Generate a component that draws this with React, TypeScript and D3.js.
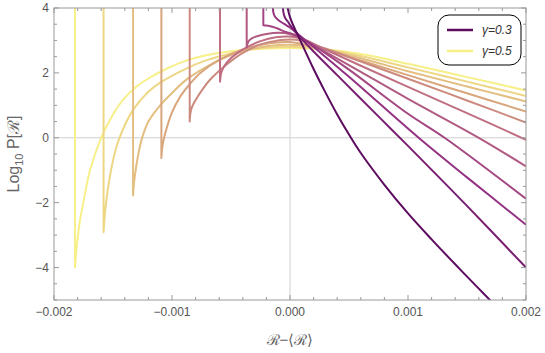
import * as d3 from 'd3';

// x values are in units of 1e-3 (R - <R>), y values are Log10 P[R]
const gammas = [0.3, 0.32, 0.34, 0.36, 0.38, 0.4, 0.42, 0.44, 0.46, 0.48, 0.5];

const g30: [number, number][] = [
  [-0.035, 4.3], [0.0, 3.72], [0.1, 2.9], [0.2, 2.12], [0.3, 1.4], [0.4, 0.72], [0.5, 0.1],
  [0.6, -0.47], [0.8, -1.45], [1.0, -2.33], [1.2, -3.13], [1.4, -3.9], [1.6, -4.65], [1.7, -5.02],
];
const g32: [number, number][] = [
  [-0.065, 4.3], [-0.055, 3.85], [-0.042, 3.7], [-0.02, 3.59], [0.0, 3.48], [0.068, 3.17],
  [0.2, 2.66], [0.4, 1.93], [0.76, 0.62], [1.0, -0.25], [1.5, -2.1], [2.0, -4.0],
];
const g34: [number, number][] = [
  [-0.15, 4.3], [-0.14, 3.85], [-0.127, 3.73], [-0.1, 3.63], [-0.05, 3.51], [0.0, 3.4], [0.06, 3.22],
  [0.2, 2.8], [0.5, 1.88], [1.09, 0.0], [1.5, -1.22], [2.0, -2.68],
];
const g36: [number, number][] = [
  [-0.226, 4.3], [-0.226, 3.47], [-0.2, 3.46], [-0.15, 3.42], [-0.1, 3.36], [-0.05, 3.28], [0.0, 3.22],
  [0.06, 3.15], [0.2, 2.85], [0.5, 2.1], [1.0, 0.74], [1.31, 0.0], [2.0, -1.88],
];
const g38: [number, number][] = [
  [-0.367, 4.3], [-0.367, 2.79], [-0.36, 2.9], [-0.345, 3.0], [-0.32, 3.07], [-0.28, 3.13], [-0.2, 3.2],
  [-0.1, 3.24], [0.0, 3.2], [0.1, 3.05], [0.3, 2.65], [0.6, 2.03], [1.0, 1.2], [1.6, 0.0], [2.0, -0.88],
];
const g40: [number, number][] = [
  [-0.593, 4.3], [-0.593, 1.73], [-0.586, 1.95], [-0.575, 2.08], [-0.555, 2.22], [-0.51, 2.42],
  [-0.45, 2.6], [-0.36, 2.8], [-0.25, 2.98], [-0.12, 3.1], [0.0, 3.12], [0.1, 3.05], [0.3, 2.72],
  [0.6, 2.22], [1.0, 1.57], [1.5, 0.76], [2.0, -0.06],
];
const g42: [number, number][] = [
  [-0.85, 4.3], [-0.85, 0.5], [-0.843, 0.78], [-0.83, 0.95], [-0.81, 1.1], [-0.79, 1.22], [-0.74, 1.5],
  [-0.68, 1.78], [-0.54, 2.25], [-0.4, 2.62], [-0.25, 2.88], [-0.1, 3.0], [0.05, 3.02], [0.3, 2.75],
  [0.6, 2.35], [1.0, 1.82], [1.5, 1.15], [2.0, 0.47],
];
const g44: [number, number][] = [
  [-1.09, 4.3], [-1.09, -0.62], [-1.083, -0.3], [-1.07, -0.05], [-1.045, 0.3], [-1.0, 0.78], [-0.93, 1.27],
  [-0.85, 1.65], [-0.76, 2.0], [-0.6, 2.4], [-0.4, 2.72], [-0.2, 2.9], [0.0, 2.95], [0.3, 2.72],
  [0.6, 2.38], [1.0, 1.93], [1.5, 1.37], [2.0, 0.81],
];
const g46: [number, number][] = [
  [-1.33, 4.3], [-1.33, -1.78], [-1.322, -1.4], [-1.31, -1.05], [-1.29, -0.6], [-1.257, -0.05], [-1.2, 0.5],
  [-1.1, 1.0], [-1.0, 1.38], [-0.875, 1.8], [-0.7, 2.2], [-0.5, 2.55], [-0.3, 2.76], [-0.1, 2.86],
  [0.1, 2.85], [0.3, 2.72], [0.6, 2.45], [1.0, 2.05], [1.5, 1.58], [2.0, 1.12],
];
const g48: [number, number][] = [
  [-1.58, 4.3], [-1.58, -2.91], [-1.572, -2.5], [-1.56, -2.05], [-1.54, -1.5], [-1.5, -0.7], [-1.45, -0.05],
  [-1.33, 0.86], [-1.2, 1.42], [-1.1, 1.7], [-0.875, 2.14], [-0.7, 2.4], [-0.5, 2.6], [-0.3, 2.74],
  [-0.1, 2.8], [0.1, 2.79], [0.3, 2.73], [0.6, 2.52], [1.0, 2.17], [1.5, 1.73], [2.0, 1.29],
];
const g50: [number, number][] = [
  [-1.822, 4.3], [-1.822, -4.0], [-1.814, -3.6], [-1.8, -3.1], [-1.78, -2.55], [-1.737, -1.72],
  [-1.695, -1.0], [-1.6, 0.0], [-1.5, 0.72], [-1.415, 1.17], [-1.3, 1.58], [-1.19, 1.85], [-1.05, 2.12],
  [-0.91, 2.34], [-0.7, 2.55], [-0.5, 2.67], [-0.3, 2.73], [-0.1, 2.76], [0.1, 2.76], [0.37, 2.7],
  [0.65, 2.55], [1.0, 2.28], [1.5, 1.87], [2.0, 1.46],
];
const curves = [g30, g32, g34, g36, g38, g40, g42, g44, g46, g48, g50];

const xTickValues = [-2, -1, 0, 1, 2];
const xTickLabels = ['\u22120.002', '\u22120.001', '0.000', '0.001', '0.002'];
const yTickValues = [-4, -2, 0, 2, 4];
const yTickLabels = ['\u22124', '\u22122', '0', '2', '4'];
const legendLabels = ['\u03b3=0.3', '\u03b3=0.5'];

const width = 545;
const height = 353;
const plot = { left: 54, right: 526, top: 8, bottom: 300 };
const font = '"Liberation Sans", Arial, sans-serif';

export default function App() {
  const x = d3.scaleLinear().domain([-2, 2]).range([plot.left, plot.right]);
  const y = d3.scaleLinear().domain([-5, 4]).range([plot.bottom, plot.top]);
  const color = d3
    .scaleLinear<string>()
    .domain([0.3, 0.34, 0.4, 0.44, 0.5])
    .range(['#5c0b5f', '#943282', '#c06f82', '#d9a67c', '#f7ef88']);

  const smooth = d3
    .line<[number, number]>()
    .x((d) => x(d[0]))
    .y((d) => y(d[1]))
    .curve(d3.curveCatmullRom.alpha(0.5));

  const makePath = (pts: [number, number][]) => {
    if (pts[0][0] === pts[1][0]) {
      const head = `M${x(pts[0][0])},${y(pts[0][1])}L`;
      return head + (smooth(pts.slice(1)) ?? '').slice(1);
    }
    return smooth(pts) ?? '';
  };

  const xMinor = d3.range(-2, 2.001, 0.2);
  const yMinor = d3.range(-5, 4.001, 0.5);
  const frame = '#999';
  const major = 5;
  const minor = 3;

  return (
    <svg
      width={width}
      height={height}
      style={{ position: 'absolute', left: 0, top: 0, background: '#fff' }}
    >
      <defs>
        <clipPath id="plot-clip">
          <rect x={plot.left} y={plot.top} width={plot.right - plot.left} height={plot.bottom - plot.top} />
        </clipPath>
      </defs>

      {/* grid lines at zero */}
      <line x1={x(0)} x2={x(0)} y1={plot.top} y2={plot.bottom} stroke="#cfcfcf" strokeWidth={1} />
      <line x1={plot.left} x2={plot.right} y1={y(0)} y2={y(0)} stroke="#cfcfcf" strokeWidth={1} />

      <g clipPath="url(#plot-clip)" fill="none" strokeWidth={2} strokeLinejoin="round">
        {curves
          .map((pts, i) => ({ pts, g: gammas[i] }))
          .reverse()
          .map(({ pts, g }) => (
            <path key={g} d={makePath(pts)} stroke={color(g)} />
          ))}
      </g>

      {/* frame */}
      <rect
        x={plot.left}
        y={plot.top}
        width={plot.right - plot.left}
        height={plot.bottom - plot.top}
        fill="none"
        stroke={frame}
        strokeWidth={1}
      />

      {/* ticks on all four sides */}
      <g stroke={frame} strokeWidth={1}>
        {xMinor.map((v) => {
          const isMajor = Math.abs(v - Math.round(v)) < 1e-6;
          const len = isMajor ? major : minor;
          return (
            <g key={`xt${v.toFixed(1)}`}>
              <line x1={x(v)} x2={x(v)} y1={plot.bottom} y2={plot.bottom - len} />
              <line x1={x(v)} x2={x(v)} y1={plot.top} y2={plot.top + len} />
            </g>
          );
        })}
        {yMinor.map((v) => {
          const isMajor = Math.abs(v / 2 - Math.round(v / 2)) < 1e-6;
          const len = isMajor ? major : minor;
          return (
            <g key={`yt${v.toFixed(1)}`}>
              <line x1={plot.left} x2={plot.left + len} y1={y(v)} y2={y(v)} />
              <line x1={plot.right} x2={plot.right - len} y1={y(v)} y2={y(v)} />
            </g>
          );
        })}
      </g>

      {/* tick labels */}
      <g fontFamily={font} fontSize={12} fill="#555">
        {xTickValues.map((v, i) => (
          <text key={v} x={x(v)} y={plot.bottom + 16} textAnchor="middle">
            {xTickLabels[i]}
          </text>
        ))}
        {yTickValues.map((v, i) => (
          <text key={v} x={plot.left - 5} y={y(v) + 4} textAnchor="end">
            {yTickLabels[i]}
          </text>
        ))}
      </g>

      {/* axis labels */}
      <text x={x(0)} y={345} textAnchor="middle" fontFamily={font} fontSize={15} fill="#666">
        {'\u211b\u2212\u27e8\u211b\u27e9'}
      </text>
      <text
        transform={`translate(19,${(plot.top + plot.bottom) / 2}) rotate(-90)`}
        textAnchor="middle"
        fontFamily={font}
        fontSize={16}
        fill="#666"
      >
        Log
        <tspan fontSize={11} dy={4}>10</tspan>
        <tspan dy={-4}>{' P[\u211b]'}</tspan>
      </text>

      {/* legend */}
      <g>
        <rect x={438} y={15} width={83} height={50} rx={11} fill="#fff" stroke="#000" strokeWidth={1} />
        {legendLabels.map((label, i) => {
          const g = i === 0 ? gammas[0] : gammas[gammas.length - 1];
          const ly = 30 + i * 21;
          return (
            <g key={label}>
              <line x1={447} x2={473} y1={ly} y2={ly} stroke={color(g)} strokeWidth={2.5} />
              <text x={482} y={ly + 4} fontFamily={font} fontSize={12} fontStyle="italic" fill="#333">
                {label}
              </text>
            </g>
          );
        })}
      </g>
    </svg>
  );
}
